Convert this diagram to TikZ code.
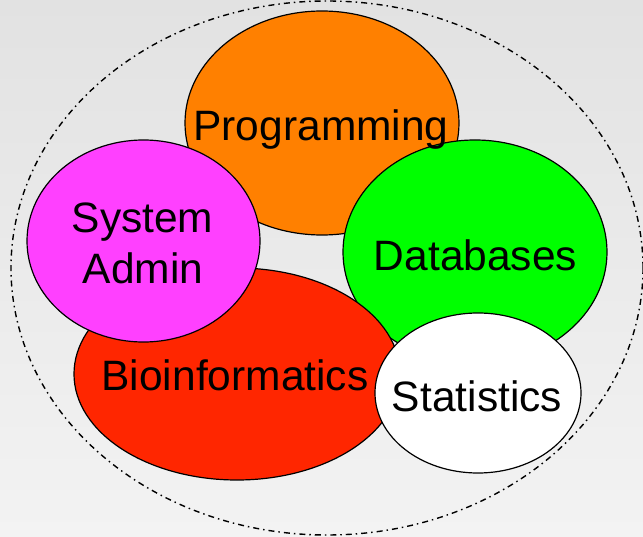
\documentclass[tikz,border=0pt]{standalone}
\usepackage{fontspec}
\setmainfont{Liberation Sans}
\definecolor{progcol}{HTML}{FF8000}
\definecolor{sysadmcol}{HTML}{FF40FF}
\definecolor{dbcol}{HTML}{00FF00}
\definecolor{biocol}{HTML}{FF2600}
\definecolor{bgtop}{HTML}{E2E2E2}
\definecolor{bgbot}{HTML}{F3F3F3}
\tikzset{
  field/.style={draw=black, line width=1.2pt},
  lbl/.style={anchor=base, inner sep=0pt, font=\fontsize{42.5}{51}\selectfont, text=black},
  outerring/.style={draw=black, line width=1.4pt,
    dash pattern=on 6pt off 4pt on 1.5pt off 4pt}
}
\begin{document}
\begin{tikzpicture}[x=1pt, y=-1pt]
  % canvas with soft vertical gradient
  \shade[top color=bgtop, bottom color=bgbot] (0,0) rectangle (643,537);
  \useasboundingbox (0,0) rectangle (643,537);

  % enclosing dash-dot boundary
  \begin{scope}
    \clip (0,0) rectangle (643,537);
    \draw[outerring] (327,268) ellipse [x radius=316, y radius=267];
  \end{scope}

  % the overlapping fields, back to front
  \path[field, fill=progcol]   (322,123) ellipse [x radius=137, y radius=112];
  \path[field, fill=dbcol]     (475,252) ellipse [x radius=132, y radius=112];
  \path[field, fill=biocol]    (237,374) ellipse [x radius=163, y radius=106];
  \path[field, fill=sysadmcol] (143.5,241) ellipse [x radius=116.5, y radius=101];
  \path[field, fill=white]     (478,393) ellipse [x radius=103, y radius=80];

  % labels
  \node[lbl] (prog) at (321,141) {Programming};
  \node[lbl] (sys)  at (142.5,233) {System};
  \node[lbl] (adm)  at (143,284) {Admin};
  \node[lbl] (db)   at (475.5,270.5) {Databases};
  \node[lbl] (bio)  at (235,391) {Bioinformatics};
  \node[lbl] (stat) at (477,411) {Statistics};
\end{tikzpicture}
\end{document}
